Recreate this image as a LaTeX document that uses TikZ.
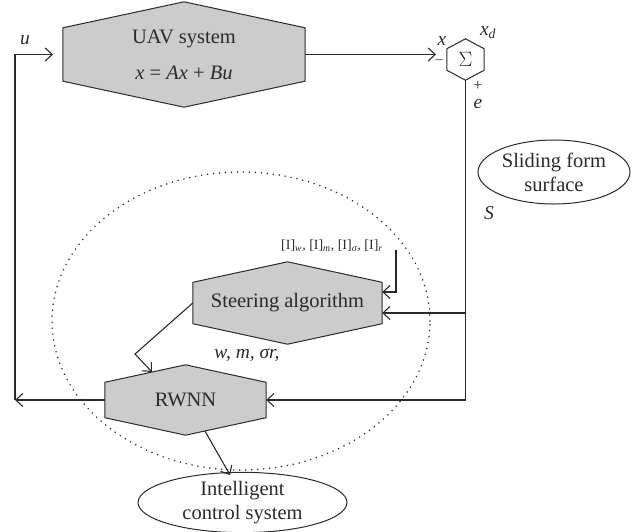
\documentclass[tikz,border=0pt]{standalone}
\usepackage{fontspec}
\setmainfont{Liberation Serif}
\usetikzlibrary{arrows.meta,calc,shapes.geometric,backgrounds}

\definecolor{linec}{HTML}{2A2A2A}
\definecolor{hexfill}{HTML}{CCCCCC}

\newcommand{\hexdraw}[3]{% node, shoulder, fill
  \draw[draw=linec, fill=#3, line width=1pt, line join=miter]
    (#1.north) -- ($(#1.north east)+(0,#2)$) -- ($(#1.south east)+(0,-#2)$)
    -- (#1.south) -- ($(#1.south west)+(0,-#2)$) -- ($(#1.north west)+(0,#2)$) -- cycle;}

\tikzset{
  conn/.style={draw=linec, line width=1.1pt},
  arr/.style={conn, -{Straight Barb[length=7pt,width=13pt,line width=1.1pt]}},
  hexbox/.style={inner sep=0pt, text=linec, align=center, font=\fontsize{20.5}{36}\selectfont},
  ovalbox/.style={ellipse, draw=linec, line width=1pt, inner sep=0pt, text=linec, align=center, font=\fontsize{20.5}{24}\selectfont},
  lab/.style={inner sep=0pt, text=linec, font=\fontsize{19.5}{22}\selectfont\itshape},
  small/.style={inner sep=0pt, text=linec, font=\fontsize{14}{16}\selectfont}
}

\begin{document}
\begin{tikzpicture}[x=1pt,y=-1pt]
\useasboundingbox (0,0) rectangle (638,531);

% dotted region
\draw[draw=linec, line width=1.7pt, line cap=round, dash pattern=on 0pt off 6pt]
  (241,321) ellipse [x radius=189pt, y radius=149pt];

% blocks
\node[hexbox, minimum width=242pt, minimum height=105pt] (uav) at (184,54.5)
  {UAV system\\ \textit{x} = \textit{Ax} + \textit{Bu}};
\node[hexbox, minimum width=37pt, minimum height=41pt, font=\fontsize{21}{22}\selectfont] (sum) at (465.5,59.5) {$\Sigma$};
\node[hexbox, minimum width=189pt, minimum height=82pt] (steer) at (287.5,303) {Steering algorithm};
\node[hexbox, minimum width=161pt, minimum height=70pt] (rwnn) at (185.5,400) {RWNN};

\begin{pgfonlayer}{background}
  \hexdraw{uav}{26}{hexfill}
  \hexdraw{sum}{10}{white}
  \hexdraw{steer}{20.5}{hexfill}
  \hexdraw{rwnn}{17.5}{hexfill}
\end{pgfonlayer}

\node[ovalbox, minimum width=209pt, minimum height=55pt] (intel) at (242.5,502.5) {Intelligent\\control system};
\node[ovalbox, minimum width=152pt, minimum height=64pt] (slide) at (554,172) {Sliding form\\surface};

% labels
\node[lab] (lu) at (25,40) {u};
\node[lab] (lx) at (442,41) {x};
\node[lab] (lxd) at (488,33) {x\textsubscript{d}};
\node[inner sep=0pt, text=linec, font=\fontsize{14}{14}\selectfont] (lminus) at (439,62) {–};
\node[inner sep=0pt, text=linec, font=\fontsize{16}{16}\selectfont] (lplus) at (478,86) {+};
\node[lab] (le) at (478,104) {e};
\node[lab] (lS) at (489,213) {S};
\node[lab] (lwm) at (247,355) {w, m, σr,};
\node[small] (lI) at (332,246) {[I]\textsubscript{\textit{w}}, [I]\textsubscript{\textit{m}}, [I]\textsubscript{\textit{σ}}, [I]\textsubscript{\textit{r}}};

% coordinates
\coordinate (sumin) at (436,54.5);
\coordinate (c1) at (465.5,400);
\coordinate (c2) at (465.5,313);
\coordinate (c3) at (396,250);
\coordinate (c4) at (135,354);
\coordinate (c5) at (152,372);
\coordinate (c6) at (15,400);
\coordinate (c7) at (53,54.5);
\coordinate (c8) at (205,431);
\coordinate (c9) at (230,475);

% connectors
\draw[arr] (uav.east) -- (sumin);
\draw[conn] (sum.south) -- (c1);
\draw[arr] (c1) -- (rwnn.east);
\draw[arr] (c2) -- (steer.east |- c2);
\draw[arr] (c3) |- ($(steer.east)+(0,-11)$);
\draw[arr] (steer.west) -- (c4) -- (c5);
\draw[arr] (rwnn.west) -- (c6);
\draw[arr] (c6) |- (c7);
\draw[arr] (c8) -- (c9);
\end{tikzpicture}
\end{document}
